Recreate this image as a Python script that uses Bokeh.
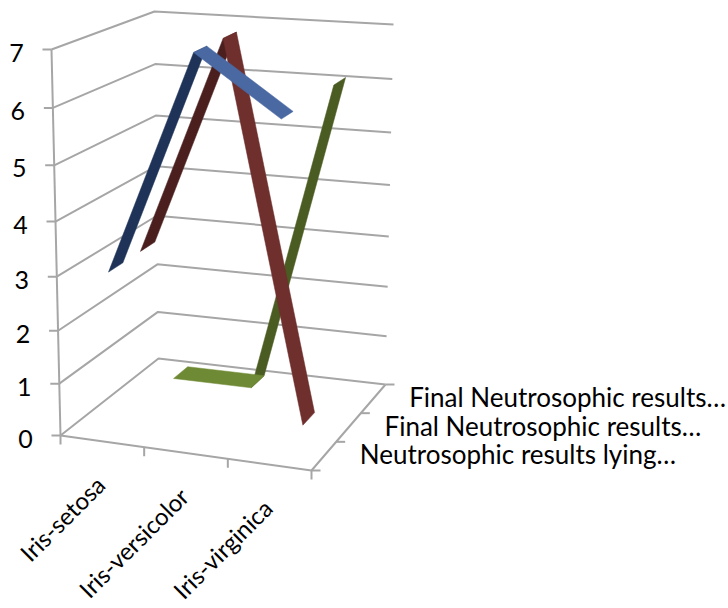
from bokeh.plotting import figure
from bokeh.models import Range1d
from bokeh.core.properties import value
from bokeh.embed import file_html
from bokeh.resources import INLINE

categories = ["Iris-setosa", "Iris-versicolor", "Iris-virginica"]
y_ticks = [0, 1, 2, 3, 4, 5, 6, 7]
series_labels = ["Neutrosophic results lying\u2026", "Final Neutrosophic results\u2026", "Final Neutrosophic results\u2026"]
series_front = [3, 7, 6]      # blue
series_middle = [3, 7, 0]     # maroon
series_back = [0, 0, 6]       # green

# 3D box corners in page pixels
FL0, FR0, BL0, BR0 = (60, 435), (311, 470), (158, 358), (385, 384)
FL7, FR7, BL7, BR7 = (51, 49), (319, 71), (154, 11), (393, 24)
VMAX = 7.0
RIBBON_LIFT = 0.07  # the ribbons float slightly above their value plane


def lerp(a, b, t):
    return (a[0] + (b[0] - a[0]) * t, a[1] + (b[1] - a[1]) * t)


def proj(u, w, v):
    t = (v - 0.01 * v * (VMAX - v)) / VMAX
    bottom = lerp(lerp(FL0, FR0, u), lerp(BL0, BR0, u), w)
    top = lerp(lerp(FL7, FR7, u), lerp(BL7, BR7, u), w)
    return lerp(bottom, top, t)


p = figure(width=728, height=608, output_backend="svg", toolbar_location=None,
           x_range=Range1d(0, 728), y_range=Range1d(608, 0), min_border=0,
           outline_line_color=None, background_fill_color="white")
p.axis.visible = False
p.grid.visible = False

GRID = "#a6a6a6"


def seg(pts, width=2):
    p.line([q[0] for q in pts], [q[1] for q in pts], line_color=GRID, line_width=width)


# walls
for v in y_ticks:
    seg([proj(0, 0, v), proj(0, 1, v), proj(1, 1, v)])
    a = proj(0, 0, v)
    seg([(a[0] - 9, a[1]), a])
    p.text([a[0] - 35], [a[1] + 3], text=[str(v)], text_font=value("Lato"), text_font_size="25px",
           text_color="#000000", text_align="center", text_baseline="middle")
seg([proj(0, 0, 0), proj(0, 0, 7)])

# floor
seg([proj(0, 0, 0), proj(1, 0, 0), proj(1, 1, 0)])
for i in range(4):
    a = proj(i / 3, 0, 0)
    seg([a, (a[0], a[1] + 9)])
    b = proj(1, i / 3, 0)
    seg([b, (b[0] + 9, b[1])])

# ribbons
HALF = 0.075
ribbons = [
    (series_back, 5 / 6, "#4a5c22", "#6f8a35", [1, 0]),
    (series_middle, 3 / 6, "#4b1f1e", "#6f2f2d", [0, 1]),
    (series_front, 1 / 6, "#1f3358", "#4a69a3", [0, 1]),
]
for vals, w, up_col, flat_col, order in ribbons:
    for i in order:
        a, b = vals[i] + RIBBON_LIFT, vals[i + 1] + RIBBON_LIFT
        u0, u1 = (2 * i + 1) / 6, (2 * i + 3) / 6
        quad = [proj(u0, w - HALF, a), proj(u1, w - HALF, b), proj(u1, w + HALF, b), proj(u0, w + HALF, a)]
        col = up_col if b > a else flat_col
        p.patch([q[0] for q in quad], [q[1] for q in quad], fill_color=col, line_color=col, line_width=0.5)

# category labels
for i, name in enumerate(categories):
    a = proj((2 * i + 1) / 6, 0, 0)
    p.text([a[0] - 2], [a[1] + 39], text=[name], text_font=value("Lato"), text_font_size="24px",
           text_color="#000000", text_align="right", text_baseline="middle", angle=[45], angle_units="deg")

# depth labels
for i, name in enumerate(series_labels):
    b = proj(1, (2 * i + 1) / 6, 0)
    p.text([b[0] + 36], [b[1] - 2], text=[name], text_font=value("Lato"), text_font_size="26px",
           text_color="#000000", text_align="left", text_baseline="middle")

open("out.html", "w").write(file_html(p, INLINE))
